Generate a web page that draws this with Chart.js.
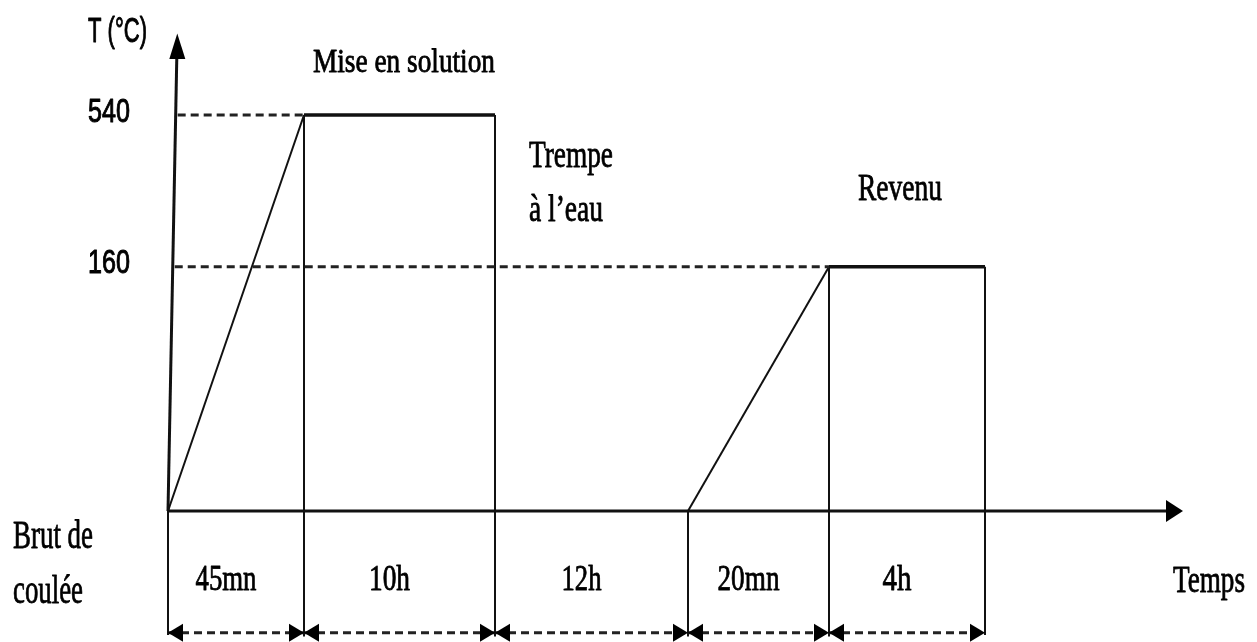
<!DOCTYPE html>
<html><head><meta charset="utf-8">
<script src="https://cdn.jsdelivr.net/npm/chart.js@4/dist/chart.umd.min.js"></script>
<style>html,body{margin:0;padding:0;background:#fff;overflow:hidden}#wrap{width:1257px;height:642px}</style>
</head><body><div id="wrap"><canvas id="c" width="1257" height="642"></canvas></div>
<script>
// ---- data (schematic diagram, not to scale) ----
const phaseLabels = ['45mn', '10h', '12h', '20mn', '4h'];
const phaseEdges = [0, 136, 327, 520, 661, 817];          // schematic time positions of phase boundaries
const tempTickLabels = ['540', '160'];
const tempLevels = [540, 333];                            // schematic heights of the 540 °C and 160 °C holds
const stageNames = ['Mise en solution', 'Trempe', 'à l’eau', 'Revenu'];
const axisTitleY = 'T (°C)';
const axisTitleX = 'Temps';
const startLabel = ['Brut de', 'coulée'];
const dimLevel = -166;                                    // level of the duration dimension arrows
const axisEnds = { xMax: 1000, xTip: 1015, yTopX: 8.8, yTop: 619, yTipX: 9.3, yTip: 651 };

// ---- geometry from data ----
const E = phaseEdges, T1 = tempLevels[0], T2 = tempLevels[1];
const K = 540 / 396;
const thin = (pts, w) => ({ data: pts, borderColor: '#111', borderWidth: w || 2, showLine: true, pointRadius: 0, fill: false, tension: 0 });
const dash = (pts) => ({ data: pts, borderColor: '#222', borderWidth: 3, borderDash: [8, 5], showLine: true, pointRadius: 0, fill: false, tension: 0 });
const axisXAt = (v) => axisEnds.yTopX * v / axisEnds.yTop;

const datasets = [
  thin([{x:0,y:0},{x:axisEnds.xMax,y:0}], 3),                       // time axis
  thin([{x:0,y:0},{x:axisEnds.yTopX,y:axisEnds.yTop}], 3),          // temperature axis
  dash([{x:axisXAt(T1)+2,y:T1},{x:E[1],y:T1}]),
  dash([{x:axisXAt(T2)+2,y:T2},{x:E[4],y:T2}]),
  thin([{x:E[0],y:0},{x:E[1],y:T1}], 2),                             // heating to 540
  thin([{x:E[1],y:T1},{x:E[2],y:T1}], 3.5),                          // solution hold
  thin([{x:E[3],y:0},{x:E[4],y:T2}], 2),                             // heating to 160
  thin([{x:E[4],y:T2},{x:E[5],y:T2}], 3.5),                          // tempering hold
  thin([{x:E[0],y:0},{x:E[0],y:dimLevel-3}], 2),
  thin([{x:E[1],y:T1},{x:E[1],y:dimLevel-5}], 2),
  thin([{x:E[2],y:T1},{x:E[2],y:dimLevel-5}], 2),
  thin([{x:E[3],y:0},{x:E[3],y:dimLevel-5}], 2),
  thin([{x:E[4],y:T2},{x:E[4],y:dimLevel-5}], 2),
  thin([{x:E[5],y:T2},{x:E[5],y:dimLevel-3}], 2),
];
for (let i = 0; i < phaseLabels.length; i++) datasets.push(dash([{x:E[i],y:dimLevel},{x:E[i+1],y:dimLevel}]));

function fitText(ctx, s, left, base, font, w, sw) {
  ctx.save();
  ctx.font = font;
  ctx.textAlign = 'left'; ctx.textBaseline = 'alphabetic';
  const nat = ctx.measureText(s).width;
  ctx.translate(left, base);
  ctx.scale(w / nat, 1);
  ctx.fillStyle = '#000';
  ctx.strokeStyle = '#000';
  ctx.lineWidth = sw || 0.8;
  ctx.lineJoin = 'round';
  ctx.fillText(s, 0, 0);
  ctx.strokeText(s, 0, 0);
  ctx.restore();
}
function tri(ctx, tx, ty, bx1, by1, bx2, by2) {
  ctx.beginPath(); ctx.moveTo(tx, ty); ctx.lineTo(bx1, by1); ctx.lineTo(bx2, by2); ctx.closePath(); ctx.fill();
}

const SERIF = '"Liberation Serif","Times New Roman",serif';
const SANS = '"Liberation Sans Narrow","Liberation Sans",Arial,sans-serif';

const deco = {
  id: 'deco',
  afterDatasetsDraw(chart) {
    const ctx = chart.ctx, xs = chart.scales.x, ys = chart.scales.y;
    const px = v => xs.getPixelForValue(v), py = v => ys.getPixelForValue(v);
    ctx.save();
    ctx.fillStyle = '#000';
    // axis arrowheads
    const oy = py(0);
    tri(ctx, px(axisEnds.xTip), oy, px(axisEnds.xMax) - 2, oy - 11, px(axisEnds.xMax) - 2, oy + 11);
    const tx = px(axisEnds.yTipX), ty = py(axisEnds.yTip), by = py(axisEnds.yTop) + 2;
    tri(ctx, tx, ty, tx - 8, by, tx + 8, by);
    // dimension arrowheads
    const dy = py(dimLevel);
    for (let i = 0; i < phaseLabels.length; i++) {
      const a = px(E[i]), b = px(E[i+1]);
      tri(ctx, a, dy, a + 15, dy - 9, a + 15, dy + 9);
      tri(ctx, b, dy, b - 15, dy - 9, b - 15, dy + 9);
    }
    // phase duration labels
    const w = { '45mn': 61, '10h': 41, '12h': 40, '20mn': 62, '4h': 29 };
    for (let i = 0; i < phaseLabels.length; i++) {
      const c = (px(E[i]) + px(E[i+1])) / 2 - 10;
      const ww = w[phaseLabels[i]] || 50;
      fitText(ctx, phaseLabels[i], c - ww / 2, 590, '35px ' + SERIF, ww);
    }
    // axis titles / ticks
    fitText(ctx, axisTitleY, 88, 42, '35px ' + SANS, 59, 1);
    fitText(ctx, tempTickLabels[0], 88, py(T1) + 7, '34px ' + SANS, 42, 1);
    fitText(ctx, tempTickLabels[1], 88, py(T2) + 6, '34px ' + SANS, 42, 1);
    fitText(ctx, axisTitleX, 1173, 592, '38px ' + SERIF, 72);
    fitText(ctx, startLabel[0], 13, 548, '40px ' + SERIF, 80);
    fitText(ctx, startLabel[1], 13, 603, '40px ' + SERIF, 70);
    // stage names
    fitText(ctx, stageNames[0], px(E[1]) + 9, 72, '33px ' + SERIF, 182);
    fitText(ctx, stageNames[1], px(E[2]) + 34, 167, '38px ' + SERIF, 84);
    fitText(ctx, stageNames[2], px(E[2]) + 34, 221, '38px ' + SERIF, 74);
    fitText(ctx, stageNames[3], px(E[4]) + 29, 200, '37px ' + SERIF, 84);
    ctx.restore();
  }
};

new Chart(document.getElementById('c'), {
  type: 'scatter',
  data: { datasets },
  options: {
    responsive: false,
    animation: false,
    events: [],
    layout: { padding: 0 },
    plugins: { legend: { display: false }, tooltip: { enabled: false } },
    scales: {
      x: { type: 'linear', display: false, min: -168, max: 1089 },
      y: { type: 'linear', display: false, min: -131 * K, max: 511 * K }
    }
  },
  plugins: [deco]
});
</script>
</body></html>
